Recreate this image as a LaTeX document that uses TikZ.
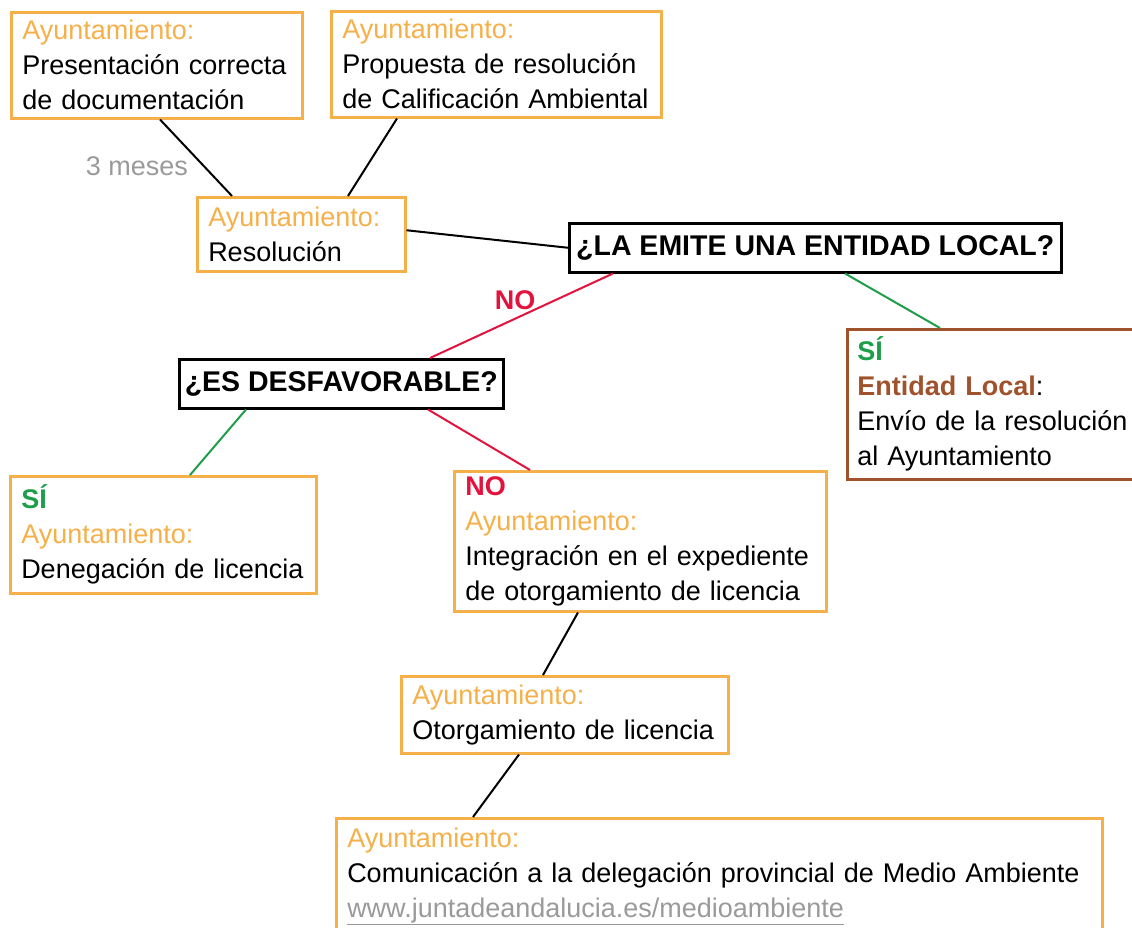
\documentclass[tikz,border=0pt]{standalone}
\usepackage{fontspec}
\setmainfont{Liberation Sans}
\usepackage{tikz}
\usetikzlibrary{arrows.meta}
\definecolor{colayto}{HTML}{F5B04A}
\definecolor{colno}{HTML}{E2133C}
\definecolor{colsi}{HTML}{1E9E48}
\definecolor{colloc}{HTML}{A0522D}
\definecolor{colgris}{HTML}{9A9A9A}
\newcommand{\ayto}{\textcolor{colayto}{Ayuntamiento:}}

\begin{document}
\begin{tikzpicture}[x=1pt, y=-1pt, font=\fontsize{27}{35}\selectfont]
    \tikzstyle{caja} = [draw=colayto, line width=2.5pt, anchor=north west, align=left, inner xsep=11pt, inner ysep=0pt];
    \tikzstyle{pregunta} = [draw=black, line width=2.5pt, anchor=north west, align=center, inner xsep=4pt, inner ysep=0pt, font=\fontsize{28.5}{35}\selectfont\bfseries];
    \useasboundingbox (0,0) rectangle (1132,927);
    \clip (0,0) rectangle (1132,927);

    \node (pres)  at ( 10, 11) [caja, text width=269pt, minimum height=106pt]{\ayto\\Presentación correcta\\de documentación};
    \node (prop)  at (330, 10) [caja, text width=308pt, minimum height=106pt]{\ayto\\Propuesta de resolución\\de Calificación Ambiental};
    \node (resol) at (196,196) [caja, text width=186pt, minimum height=74pt]{\ayto\\Resolución};
    \node (emite) at (568,222) [pregunta, minimum width=492pt, minimum height=49pt]{¿LA EMITE UNA ENTIDAD LOCAL?};
    \node (desf)  at (178,358) [pregunta, minimum width=324pt, minimum height=49pt]{¿ES DESFAVORABLE?};
    \node (envio) at (846,328) [caja, draw=colloc, inner xsep=10pt, text width=290pt, minimum height=150pt]{\textcolor{colsi}{\bfseries SÍ}\\\textcolor{colloc}{\bfseries Entidad Local}:\\Envío de la resolución\\al Ayuntamiento};
    \node (deneg) at (  9,475) [caja, text width=284pt, minimum height=117pt]{\textcolor{colsi}{\bfseries SÍ}\\\ayto\\Denegación de licencia};
    \node (integ) at (453,470) [caja, text width=350pt, minimum height=140pt]{\textcolor{colno}{\bfseries NO}\\\ayto\\Integración en el expediente\\de otorgamiento de licencia};
    \node (otorg) at (400,675) [caja, text width=305pt, minimum height=77pt]{\ayto\\Otorgamiento de licencia};
    \node (comun) at (335,817) [caja, text width=744pt, minimum height=116pt]{\ayto\\Comunicación a la delegación provincial de Medio Ambiente\\\textcolor{colgris}{\underline{www.juntadeandalucia.es/medioambiente}}};
    \node (meses) at (137,166) [colgris]{3 meses};
    \node (lblno) at (515,300) [colno, font=\fontsize{27}{35}\selectfont\bfseries]{NO};

    \begin{scope}[line width=2pt]
      \draw ([xshift=150pt]pres.south west) -- ([xshift=36pt]resol.north west);
      \draw ([xshift=67pt]prop.south west)  -- ([xshift=152pt]resol.north west);
      \draw ([yshift=4pt]resol.east) -- (emite.west);
      \draw[colno] ([xshift=45pt]emite.south west)  -- ([xshift=252pt]desf.north west);
      \draw[colsi] ([xshift=277pt]emite.south west) -- ([xshift=94pt]envio.north west);
      \draw[colsi] ([xshift=68pt]desf.south west)   -- ([xshift=181pt]deneg.north west);
      \draw[colno] ([xshift=250pt]desf.south west)  -- ([xshift=77pt]integ.north west);
      \draw ([xshift=125pt]integ.south west) -- ([xshift=143pt]otorg.north west);
      \draw ([xshift=119pt]otorg.south west) -- ([xshift=138pt]comun.north west);
    \end{scope}
  \end{tikzpicture}
\end{document}
